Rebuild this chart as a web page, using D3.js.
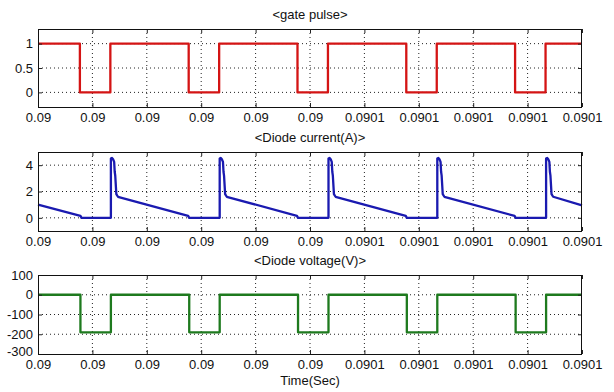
<!DOCTYPE html>
<html>
<head>
<meta charset="utf-8">
<script src="https://cdn.jsdelivr.net/npm/d3@7"></script>
<style>
  html, body { margin: 0; padding: 0; background: #fff; }
  svg { display: block; }
  text { font-family: Arial, "Liberation Sans", sans-serif; fill: #111; }
</style>
</head>
<body>
<svg id="chart" width="614" height="392"></svg>
<script>
// Shared time axis (seconds)
const xTicks = [0.09, 0.09001, 0.09002, 0.09003, 0.09004, 0.09005, 0.09006, 0.09007, 0.09008, 0.09009, 0.0901];
const xTickLabels = ["0.09", "0.09", "0.09", "0.09", "0.09", "0.09", "0.0901", "0.0901", "0.0901", "0.0901", "0.0901"];

// Gate pulse: switching instants and level held after each one
const gateTime = [0.09, 0.0900077, 0.0900133, 0.0900277, 0.0900333, 0.0900477, 0.0900533, 0.0900677, 0.0900733, 0.0900877, 0.0900933, 0.0901];
const gateValue = [1, 0, 1, 0, 1, 0, 1, 0, 1, 0, 1, 1];
const gateTicks = [0, 0.5, 1];
const gateTickLabels = ["0", "0.5", "1"];

// Diode current (A)
const currentTime = [
  0.09, 0.0900078, 0.0900080,
  0.0900134, 0.0900134, 0.0900136, 0.0900138, 0.0900140, 0.0900141, 0.0900142, 0.0900144, 0.0900147, 0.0900276, 0.0900278,
  0.0900334, 0.0900334, 0.0900336, 0.0900338, 0.0900340, 0.0900341, 0.0900342, 0.0900344, 0.0900347, 0.0900476, 0.0900478,
  0.0900534, 0.0900534, 0.0900536, 0.0900538, 0.0900540, 0.0900541, 0.0900542, 0.0900544, 0.0900547, 0.0900676, 0.0900678,
  0.0900734, 0.0900734, 0.0900736, 0.0900738, 0.0900740, 0.0900741, 0.0900742, 0.0900744, 0.0900747, 0.0900876, 0.0900878,
  0.0900934, 0.0900934, 0.0900936, 0.0900938, 0.0900940, 0.0900941, 0.0900942, 0.0900944, 0.0900947, 0.0901
];
const currentValue = [
  1.0, 0.15, 0,
  0, 4.5, 4.55, 4.45, 4.25, 3.5, 3.2, 1.8, 1.6, 0.15, 0,
  0, 4.5, 4.55, 4.45, 4.25, 3.5, 3.2, 1.8, 1.6, 0.15, 0,
  0, 4.5, 4.55, 4.45, 4.25, 3.5, 3.2, 1.8, 1.6, 0.15, 0,
  0, 4.5, 4.55, 4.45, 4.25, 3.5, 3.2, 1.8, 1.6, 0.15, 0,
  0, 4.5, 4.55, 4.45, 4.25, 3.5, 3.2, 1.8, 1.6, 0.95
];
const currentTicks = [0, 2, 4];
const currentTickLabels = ["0", "2", "4"];

// Diode voltage (V): switching instants and level held after each one
const voltTime = [0.09, 0.0900078, 0.0900134, 0.0900278, 0.0900334, 0.0900478, 0.0900534, 0.0900678, 0.0900734, 0.0900878, 0.0900934, 0.0901];
const voltValue = [0, -190, 0, -190, 0, -190, 0, -190, 0, -190, 0, 0];
const voltTicks = [-300, -200, -100, 0, 100];
const voltTickLabels = ["-300", "-200", "-100", "0", "100"];

const svg = d3.select("#chart");
const left = 38, right = 582;

const x = d3.scaleLinear().domain([0.09, 0.0901]).range([left, right]);

function panel(cfg) {
  const y = d3.scaleLinear().domain(cfg.domain).range([cfg.bottom, cfg.top]);
  const g = svg.append("g");

  // dotted grid
  g.append("g").selectAll("line").data(xTicks.slice(1, -1)).join("line")
    .attr("x1", d => x(d)).attr("x2", d => x(d))
    .attr("y1", cfg.top).attr("y2", cfg.bottom)
    .attr("stroke", "#222").attr("stroke-width", 1).attr("stroke-dasharray", "1,3");
  g.append("g").selectAll("line").data(cfg.yTicks.filter(v => v > cfg.domain[0] && v < cfg.domain[1])).join("line")
    .attr("x1", left).attr("x2", right)
    .attr("y1", d => y(d)).attr("y2", d => y(d))
    .attr("stroke", "#222").attr("stroke-width", 1).attr("stroke-dasharray", "1,3");

  // trace
  const line = d3.line()
    .x((d, i) => x(cfg.t[i]))
    .y(d => y(d))
    .curve(cfg.step ? d3.curveStepAfter : d3.curveLinear);
  g.append("path").datum(cfg.v)
    .attr("d", line)
    .attr("fill", "none")
    .attr("stroke", cfg.color)
    .attr("stroke-width", 2.3)
    .attr("stroke-linejoin", "round");

  // axes with inward ticks on all four sides
  const fmtX = (d, i) => xTickLabels[i];
  const fmtY = (d, i) => cfg.yLabels[i];
  const bottom = g.append("g").attr("transform", `translate(0,${cfg.bottom})`)
    .call(d3.axisBottom(x).tickValues(xTicks).tickFormat(fmtX).tickSizeInner(-4).tickSizeOuter(0).tickPadding(6));
  const top = g.append("g").attr("transform", `translate(0,${cfg.top})`)
    .call(d3.axisTop(x).tickValues(xTicks).tickFormat("").tickSizeInner(-4).tickSizeOuter(0));
  const leftAx = g.append("g").attr("transform", `translate(${left},0)`)
    .call(d3.axisLeft(y).tickValues(cfg.yTicks).tickFormat(fmtY).tickSizeInner(-4).tickSizeOuter(0).tickPadding(5));
  const rightAx = g.append("g").attr("transform", `translate(${right},0)`)
    .call(d3.axisRight(y).tickValues(cfg.yTicks).tickFormat("").tickSizeInner(-4).tickSizeOuter(0));
  [bottom, top, leftAx, rightAx].forEach(a => {
    a.select(".domain").remove();
    a.selectAll(".tick line").attr("stroke", "#222");
    a.selectAll("text").attr("font-size", 13).attr("fill", "#111")
      .attr("font-family", "Arial, 'Liberation Sans', sans-serif");
  });
  // a label sitting on the bottom edge is lifted clear of the time labels
  leftAx.selectAll(".tick").filter(d => d === cfg.domain[0])
    .select("text").attr("y", -3);

  // box
  g.append("rect")
    .attr("x", left + 0.5).attr("y", cfg.top + 0.5)
    .attr("width", right - left - 1).attr("height", cfg.bottom - cfg.top)
    .attr("fill", "none").attr("stroke", "#111").attr("stroke-width", 1);

  // title
  g.append("text")
    .attr("x", (left + right) / 2).attr("y", cfg.titleY)
    .attr("text-anchor", "middle").attr("font-size", 13)
    .text(cfg.title);
}

panel({ title: "<gate pulse>", titleY: 19, top: 29, bottom: 107, domain: [-0.3, 1.3],
        yTicks: gateTicks, yLabels: gateTickLabels, t: gateTime, v: gateValue, step: true, color: "#d41414" });
panel({ title: "<Diode current(A)>", titleY: 142, top: 152, bottom: 231, domain: [-1, 5],
        yTicks: currentTicks, yLabels: currentTickLabels, t: currentTime, v: currentValue, step: false, color: "#1a1ab0" });
panel({ title: "<Diode voltage(V)>", titleY: 265, top: 275, bottom: 354, domain: [-300, 100],
        yTicks: voltTicks, yLabels: voltTickLabels, t: voltTime, v: voltValue, step: true, color: "#1e7a1e" });

svg.append("text")
  .attr("x", (left + right) / 2).attr("y", 385)
  .attr("text-anchor", "middle").attr("font-size", 13)
  .text("Time(Sec)");
</script>
</body>
</html>
